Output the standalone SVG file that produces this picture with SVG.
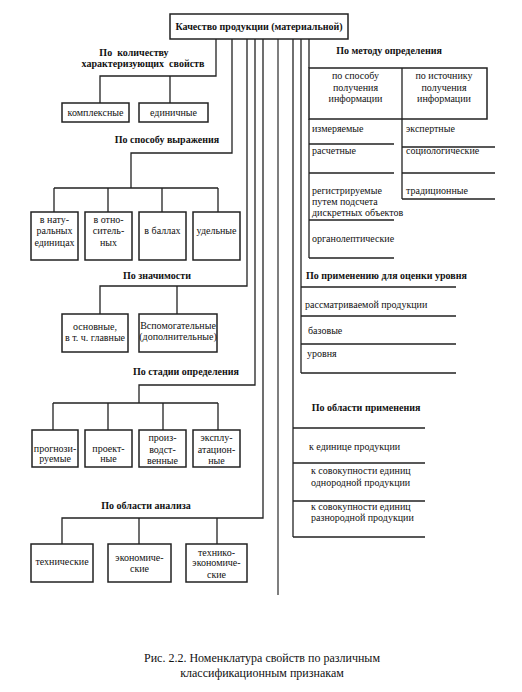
<svg xmlns="http://www.w3.org/2000/svg" width="522" height="692" viewBox="0 0 522 692">
<style>
.b{fill:#fff;stroke:#222;stroke-width:1.5}
.c{fill:none;stroke:#222;stroke-width:1.3}
.g{fill:none;stroke:#555;stroke-width:1.5}
text{font-family:"Liberation Serif","Times New Roman","DejaVu Serif",serif;font-size:10px;fill:#111}
.h{font-weight:bold}
.m{text-anchor:middle}
.cap{font-size:12px}
</style>
<rect width="522" height="692" fill="#fff"/>
<g id="connectors">
<path class="c" d="M216 39V76H100V103M170 76V103"/>
<path class="c" d="M232 39V153H131V188M54 188H218M54 188V212M108 188V212M162 188V212M218 188V212"/>
<path class="c" d="M247 39V286H100V314M177 286V314"/>
<path class="c" d="M255 39V385H139V403M53 403H218M53 403V430M108 403V430M163 403V430M218 403V430"/>
<path class="c" d="M263 39V518H62V544M139 518V544M217 518V544"/>
<path class="g" d="M278 39V595"/>
<path class="c" d="M293 39V537"/>
<path class="c" d="M301 39V373"/>
<path class="c" d="M309 39V68"/>
</g>
<g id="root"><rect class="b" x="170" y="14" width="178" height="25"/><text class="h m" x="259" y="30">Качество продукции (материальной)</text></g>
<g id="s1">
<text class="h m" x="134" y="56" xml:space="preserve">По  количеству</text>
<text class="h m" x="143" y="67" xml:space="preserve">характеризующих  свойств</text>
<g id="n1a"><rect class="b" x="62" y="103" width="67" height="19"/><text class="m" x="95.5" y="116">комплексные</text></g>
<g id="n1b"><rect class="b" x="139" y="103" width="69" height="19"/><text class="m" x="173.5" y="116">единичные</text></g>
</g>
<g id="s2">
<text class="h m" x="167" y="143">По способу выражения</text>
<g id="n2a"><rect class="b" x="31" y="212" width="47" height="48"/><text class="m" x="54.5" y="223">в нату-</text><text class="m" x="54.5" y="234">ральных</text><text class="m" x="54.5" y="246">единицах</text></g>
<g id="n2b"><rect class="b" x="85" y="212" width="47" height="48"/><text class="m" x="108.5" y="223">в отно-</text><text class="m" x="108.5" y="234">ситель-</text><text class="m" x="108.5" y="246">ных</text></g>
<g id="n2c"><rect class="b" x="139" y="212" width="47" height="48"/><text class="m" x="162.5" y="234">в баллах</text></g>
<g id="n2d"><rect class="b" x="193" y="212" width="47" height="48"/><text class="m" x="216.5" y="234">удельные</text></g>
</g>
<g id="s3">
<text class="h m" x="157" y="279">По значимости</text>
<g id="n3a"><rect class="b" x="62" y="314" width="66" height="38"/><text class="m" x="95" y="330">основные,</text><text class="m" x="95" y="341">в т. ч. главные</text></g>
<g id="n3b"><rect class="b" x="139" y="314" width="78" height="38"/><text class="m" x="178" y="329" font-size="9.5">Вспомогательные</text><text class="m" x="178" y="340" font-size="9.5">(дополнительные)</text></g>
</g>
<g id="s4">
<text class="h m" x="186" y="375">По стадии определения</text>
<g id="n4a"><rect class="b" x="32" y="430" width="46" height="37"/><text class="m" x="55" y="452">прогнози-</text><text class="m" x="55" y="462">руемые</text></g>
<g id="n4b"><rect class="b" x="85" y="430" width="47" height="37"/><text class="m" x="108.5" y="452">проект-</text><text class="m" x="108.5" y="462">ные</text></g>
<g id="n4c"><rect class="b" x="139" y="430" width="47" height="37"/><text class="m" x="162.5" y="441">произ-</text><text class="m" x="162.5" y="453">водст-</text><text class="m" x="162.5" y="464">венные</text></g>
<g id="n4d"><rect class="b" x="193" y="430" width="47" height="37"/><text class="m" x="216.5" y="441">эксплу-</text><text class="m" x="216.5" y="453">атацион-</text><text class="m" x="216.5" y="464">ные</text></g>
</g>
<g id="s5">
<text class="h m" x="146" y="509">По области анализа</text>
<g id="n5a"><rect class="b" x="31" y="544" width="62" height="38"/><text class="m" x="62" y="565">технические</text></g>
<g id="n5b"><rect class="b" x="108" y="544" width="63" height="38"/><text class="m" x="139.5" y="561">экономиче-</text><text class="m" x="139.5" y="572">ские</text></g>
<g id="n5c"><rect class="b" x="186" y="544" width="61" height="38"/><text class="m" x="216.5" y="556">технико-</text><text class="m" x="216.5" y="566">экономиче-</text><text class="m" x="216.5" y="578">ские</text></g>
</g>
<g id="s6">
<text class="h m" x="389" y="54">По методу определения</text>
<rect class="b" x="309" y="68" width="178" height="51"/>
<path class="c" d="M402 68V199M309 119V258"/>
<path class="c" d="M309 144H394M309 173H394M309 220H394M309 258H394M402 147H495M402 173H495M402 199H495"/>
<text class="m" x="355.5" y="79">по способу</text><text class="m" x="355.5" y="91">получения</text><text class="m" x="355.5" y="102">информации</text>
<text class="m" x="444" y="79">по источнику</text><text class="m" x="444" y="91">получения</text><text class="m" x="444" y="102">информации</text>
<text x="312" y="132">измеряемые</text>
<text x="312" y="154">расчетные</text>
<text x="312" y="194">регистрируемые</text>
<text x="312" y="205">путем подсчета</text>
<text x="312" y="216">дискретных объектов</text>
<text x="312" y="242">органолептические</text>
<text x="406" y="132">экспертные</text>
<text x="406" y="154">социологические</text>
<text x="406" y="194">традиционные</text>
</g>
<g id="s7">
<text class="h" x="306" y="279">По применению для оценки уровня</text>
<path class="c" d="M301 287H456M301 316H456M301 344H456M301 373H456"/>
<text x="305" y="308">рассматриваемой продукции</text>
<text x="308" y="334">базовые</text>
<text x="307" y="357">уровня</text>
</g>
<g id="s8">
<text class="h m" x="366" y="411">По области применения</text>
<path class="c" d="M293 428H425M293 463H425M293 501H425M293 537H425"/>
<text x="309" y="450">к единице продукции</text>
<text x="311" y="474">к совокупности единиц</text>
<text x="311" y="486">однородной продукции</text>
<text x="311" y="510">к совокупности единиц</text>
<text x="311" y="521">разнородной продукции</text>
</g>
<g id="caption">
<text class="m cap" x="262" y="662">Рис. 2.2. Номенклатура свойств по различным</text>
<text class="m cap" x="262" y="677">классификационным признакам</text>
</g>
</svg>
